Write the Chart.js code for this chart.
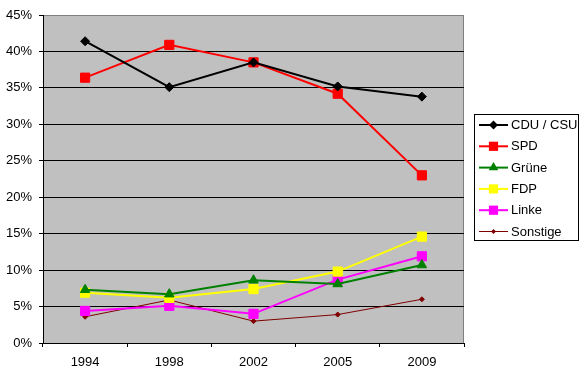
<!DOCTYPE html>
<html>
<head>
<meta charset="utf-8">
<script src="https://cdn.jsdelivr.net/npm/chart.js@4/dist/chart.umd.min.js"></script>
<style>
  html, body { margin: 0; padding: 0; background: #fff; }
  #wrap { width: 582px; height: 370px; position: relative; }
</style>
</head>
<body>
<div id="wrap"><canvas id="chart" width="582" height="370"></canvas></div>
<script>
// Wahlergebnisse (Bundestagswahlen), Anteil in %
const years = ['1994', '1998', '2002', '2005', '2009'];
const cduCsu = [41.4, 35.1, 38.5, 35.2, 33.8];
const spd = [36.4, 40.9, 38.5, 34.2, 23.0];
const gruene = [7.3, 6.7, 8.6, 8.1, 10.7];
const fdp = [6.9, 6.2, 7.4, 9.8, 14.6];
const linke = [4.4, 5.1, 4.0, 8.7, 11.9];
const sonstige = [3.6, 5.9, 3.0, 3.9, 6.0];

function series(label, data, color, style, radius, width) {
    return {
        label: label,
        data: data,
        borderColor: color,
        backgroundColor: color,
        borderWidth: width,
        pointStyle: style,
        pointRadius: radius,
        pointHoverRadius: radius,
        pointBorderWidth: 1,
        tension: 0
    };
}

// grey plot area plus the grey top/right border, like the old Excel look
const plotBackground = {
    id: 'plotBackground',
    beforeDraw: function (chart) {
        const a = chart.chartArea;
        const ctx = chart.ctx;
        ctx.save();
        ctx.fillStyle = '#c0c0c0';
        ctx.fillRect(a.left, a.top, a.right - a.left, a.bottom - a.top);
        ctx.strokeStyle = '#808080';
        ctx.lineWidth = 1;
        ctx.beginPath();
        ctx.moveTo(a.left, a.top + 0.5);
        ctx.lineTo(a.right - 0.5, a.top + 0.5);
        ctx.lineTo(a.right - 0.5, a.bottom);
        ctx.stroke();
        ctx.restore();
    }
};

function drawMarker(ctx, style, x, y, r) {
    ctx.beginPath();
    if (style === 'rect') {
        const s = Math.SQRT1_2 * r;
        ctx.rect(x - s, y - s, 2 * s, 2 * s);
    } else if (style === 'rectRot') {
        ctx.moveTo(x, y - r);
        ctx.lineTo(x + r, y);
        ctx.lineTo(x, y + r);
        ctx.lineTo(x - r, y);
        ctx.closePath();
    } else if (style === 'triangle') {
        ctx.moveTo(x, y - r);
        ctx.lineTo(x + r * 0.87, y + r * 0.5);
        ctx.lineTo(x - r * 0.87, y + r * 0.5);
        ctx.closePath();
    }
    ctx.fill();
}

// boxed legend on the right
const boxLegend = {
    id: 'boxLegend',
    afterDraw: function (chart) {
        const ctx = chart.ctx;
        const left = 474, top = 114, w = 104, h = 126;
        ctx.save();
        ctx.fillStyle = '#fff';
        ctx.fillRect(left, top, w, h);
        ctx.strokeStyle = '#000';
        ctx.lineWidth = 1;
        ctx.strokeRect(left + 0.5, top + 0.5, w, h);
        ctx.font = '13px "Liberation Sans", Arial, sans-serif';
        ctx.textBaseline = 'middle';
        chart.data.datasets.forEach(function (ds, i) {
            const y = 125 + i * 21.3;
            ctx.strokeStyle = ds.borderColor;
            ctx.lineWidth = ds.borderWidth;
            ctx.beginPath();
            ctx.moveTo(479, y);
            ctx.lineTo(508, y);
            ctx.stroke();
            ctx.fillStyle = ds.borderColor;
            drawMarker(ctx, ds.pointStyle, 493.5, y, ds.pointRadius);
            ctx.fillStyle = '#000';
            ctx.fillText(ds.label, 511, y + 0.5);
        });
        ctx.restore();
    }
};

const ctx = document.getElementById('chart').getContext('2d');
new Chart(ctx, {
    type: 'line',
    data: {
        labels: years,
        datasets: [
            series('CDU / CSU', cduCsu, '#000000', 'rectRot', 4.5, 2),
            series('SPD', spd, '#ff0000', 'rect', 6.5, 2),
            series('Grüne', gruene, '#008000', 'triangle', 5.5, 2),
            series('FDP', fdp, '#ffff00', 'rect', 6.5, 2),
            series('Linke', linke, '#ff00ff', 'rect', 6.5, 2),
            series('Sonstige', sonstige, '#800000', 'rectRot', 2.5, 1)
        ]
    },
    options: {
        responsive: false,
        animation: false,
        layout: { padding: { left: 0, top: 15, right: 118, bottom: 0 } },
        plugins: {
            legend: { display: false },
            tooltip: { enabled: false }
        },
        scales: {
            x: {
                offset: true,
                border: { color: '#000', width: 1 },
                grid: {
                    offset: true,
                    drawOnChartArea: false,
                    drawTicks: true,
                    tickLength: 4,
                    color: '#000'
                },
                ticks: {
                    color: '#000',
                    padding: 8,
                    font: { family: '"Liberation Sans", Arial, sans-serif', size: 13 }
                },
                afterFit: function (scale) { scale.height = 27; }
            },
            y: {
                min: 0,
                max: 45,
                border: { color: '#000', width: 1 },
                grid: {
                    color: function (c) { return c.tick && c.tick.value === 45 ? '#808080' : '#000'; },
                    tickColor: '#000',
                    tickLength: 4
                },
                ticks: {
                    stepSize: 5,
                    color: '#000',
                    padding: 7,
                    font: { family: '"Liberation Sans", Arial, sans-serif', size: 13 },
                    callback: function (v) { return v + '%'; }
                },
                afterFit: function (scale) { scale.width = 43; }
            }
        }
    },
    plugins: [plotBackground, boxLegend]
});
</script>
</body>
</html>
